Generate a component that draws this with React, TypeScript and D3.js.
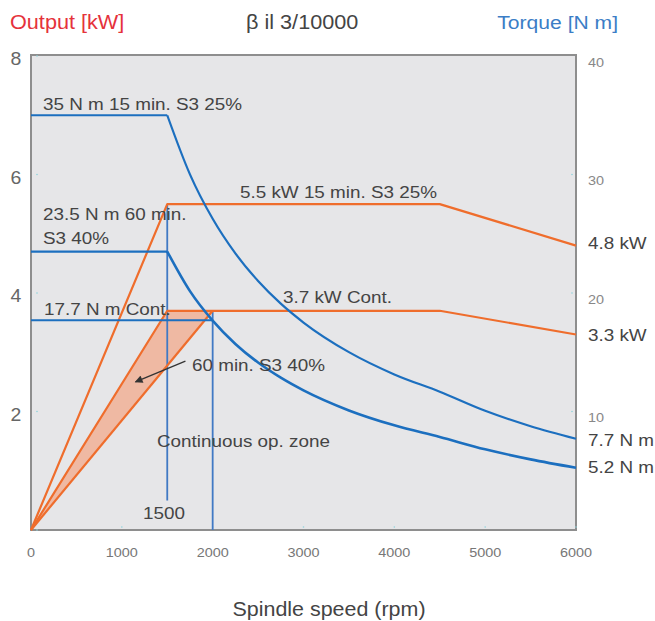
import * as d3 from 'd3'
import React, { useEffect, useRef } from 'react'

// Axis ticks
const speedTicks = [0, 1000, 2000, 3000, 4000, 5000, 6000]
const outputTicks = [2, 4, 6, 8]
const torqueTicks = [10, 20, 30, 40]

// Output curves (rpm -> kW)
const power15Speed = [0, 1500, 4500, 6000]
const power15Output = [0, 5.5, 5.5, 4.8]
const powerContSpeed = [0, 1500, 4500, 6000]
const powerContOutput = [0, 3.7, 3.7, 3.3]
const power60Speed = [0, 2000]
const power60Output = [0, 3.7]
// shaded 60 min. S3 40% zone
const zoneSpeed = [0, 1500, 2000]
const zoneOutput = [0, 3.7, 3.7]

// Torque curves (rpm -> N m)
const torqueSpeed = [0, 1500, 1750, 2000, 2250, 2500, 2750, 3000, 3500, 4000, 4500, 5000, 5500, 6000]
const torque15Value = [35, 35, 30.01, 26.26, 23.34, 21.01, 19.1, 17.51, 15.01, 13.13, 11.67, 10.06, 8.76, 7.7]
const torque60Value = [23.5, 23.5, 20.16, 17.67, 15.7, 14.13, 12.85, 11.78, 10.09, 8.83, 7.85, 6.81, 5.96, 5.25]
const torqueContSpeed = [0, 2000]
const torqueContValue = [17.7, 17.7]

// Base speed markers (rpm, kW top, kW bottom)
const markerSpeed = [1500, 2000]
const markerTop = [5.5, 3.7]
const markerBottom = [0.5, 0]

const ORANGE = '#ef6d2c'
const BLUE = '#1c6fbf'
const BLUE_LIGHT = '#4079c4'
const TEXT = '#444'
const FONT = "'Liberation Sans', Arial, sans-serif"
const SX = 1.11

const App = () => {
  const svgRef = useRef<any>(null)

  useEffect(() => {
    if (!svgRef.current) return
    d3.select(svgRef.current).selectAll('*').remove()

    const width = 655
    const height = 621
    const left = 31
    const right = 576
    const top = 55
    const bottom = 530

    const svg = d3.select(svgRef.current)
      .attr('width', width)
      .attr('height', height)
      .style('font-family', FONT)

    const x = d3.scaleLinear().domain([0, 6000]).range([left, right])
    const y = d3.scaleLinear().domain([0, 8]).range([bottom, 56])
    const yT = d3.scaleLinear().domain([0, 40]).range([bottom, 56])

    // text with the slight horizontal stretch of the original
    const label = (txt: string, px: number, py: number, size: number, color: string, anchor = 'start', sx = SX) =>
      svg.append('text')
        .attr('transform', `translate(${px},${py}) scale(${sx},1)`)
        .attr('text-anchor', anchor)
        .attr('dy', '0.35em')
        .attr('font-size', size)
        .attr('fill', color)
        .text(txt)

    // Plot area
    svg.append('rect')
      .attr('x', left)
      .attr('y', top)
      .attr('width', right - left)
      .attr('height', bottom - top)
      .attr('fill', '#e6e6e8')
      .attr('stroke', '#8e8e8e')
      .attr('stroke-width', 2)

    // tiny tick dots inside the frame
    svg.selectAll('.ydot')
      .data([0, ...outputTicks])
      .enter()
      .append('circle')
      .attr('cx', left + 6)
      .attr('cy', (d) => y(d))
      .attr('r', 0.8)
      .attr('fill', '#8fd3dc')
    svg.selectAll('.rdot')
      .data(outputTicks.slice(0, 3))
      .enter()
      .append('circle')
      .attr('cx', right - 4)
      .attr('cy', (d) => y(d))
      .attr('r', 0.8)
      .attr('fill', '#8fd3dc')
    svg.selectAll('.xdot')
      .data(speedTicks.slice(1))
      .enter()
      .append('circle')
      .attr('cx', (d) => x(d))
      .attr('cy', bottom - 3)
      .attr('r', 0.8)
      .attr('fill', '#8fd3dc')

    const line: any = d3.line()
      .x((d: any) => x(d[0]))
      .y((d: any) => y(d[1]))
    const lineT: any = d3.line()
      .x((d: any) => x(d[0]))
      .y((d: any) => yT(d[1]))
    const curveT: any = d3.line()
      .x((d: any) => x(d[0]))
      .y((d: any) => yT(d[1]))
      .curve(d3.curveMonotoneX)

    // 60 min zone
    svg.append('path')
      .attr('d', line(zoneSpeed.map((s, i) => [s, zoneOutput[i]])) + 'Z')
      .attr('fill', '#efb9a3')

    // Speed markers
    markerSpeed.forEach((s, i) => {
      svg.append('line')
        .attr('x1', x(s))
        .attr('x2', x(s))
        .attr('y1', y(markerTop[i]))
        .attr('y2', y(markerBottom[i]))
        .attr('stroke', BLUE_LIGHT)
        .attr('stroke-width', 1.8)
    })

    // Output curves
    const powerCurves = [
      [power15Speed, power15Output],
      [powerContSpeed, powerContOutput],
      [power60Speed, power60Output],
    ]
    powerCurves.forEach(([sp, val]) => {
      svg.append('path')
        .attr('d', line(sp.map((s, i) => [s, val[i]])))
        .attr('fill', 'none')
        .attr('stroke', ORANGE)
        .attr('stroke-width', 2.2)
        .attr('stroke-linejoin', 'round')
    })

    // Torque curves: flat part straight, then the falling part smooth
    const torqueCurves = [
      [torque15Value, 2.2],
      [torque60Value, 2.6],
    ]
    torqueCurves.forEach(([val, w]: any) => {
      const pts = torqueSpeed.map((s, i) => [s, val[i]])
      svg.append('path')
        .attr('d', lineT(pts.slice(0, 2)))
        .attr('fill', 'none')
        .attr('stroke', BLUE)
        .attr('stroke-width', 2.2)
      svg.append('path')
        .attr('d', curveT(pts.slice(1)))
        .attr('fill', 'none')
        .attr('stroke', BLUE)
        .attr('stroke-width', w)
    })
    svg.append('path')
      .attr('d', lineT(torqueContSpeed.map((s, i) => [s, torqueContValue[i]])))
      .attr('fill', 'none')
      .attr('stroke', BLUE)
      .attr('stroke-width', 2.2)

    // Arrow to the 60 min zone
    svg.append('defs')
      .append('marker')
      .attr('id', 'arrow')
      .attr('viewBox', '0 0 10 10')
      .attr('refX', 9)
      .attr('refY', 5)
      .attr('markerWidth', 7)
      .attr('markerHeight', 6)
      .attr('orient', 'auto')
      .append('path')
      .attr('d', 'M0,0L10,5L0,10Z')
      .attr('fill', '#333')
    svg.append('line')
      .attr('x1', x(1700))
      .attr('y1', y(2.85))
      .attr('x2', x(1150))
      .attr('y2', y(2.5))
      .attr('stroke', '#333')
      .attr('stroke-width', 1.3)
      .attr('marker-end', 'url(#arrow)')

    // Annotations
    label('35 N m 15 min. S3 25%', 43, 104, 17, TEXT)
    label('23.5 N m 60 min.', 43, 214, 17, TEXT)
    label('S3 40%', 43, 238, 17, TEXT)
    label('5.5 kW 15 min. S3 25%', 240, 192, 17, TEXT)
    label('17.7 N m Cont.', 44, 309, 17, TEXT)
    label('3.7 kW Cont.', 283, 297, 17, TEXT)
    label('60 min. S3 40%', 192, 365, 17, TEXT)
    label('Continuous op. zone', 157, 441, 17, TEXT)
    label('1500', 143, 513, 17, TEXT)

    // Right end values
    label('4.8 kW', 588, 243, 17, TEXT)
    label('3.3 kW', 588, 335, 17, TEXT)
    label('7.7 N m', 588, 440, 17, TEXT)
    label('5.2 N m', 588, 467, 17, TEXT)

    // Axes labels
    outputTicks.forEach((t) => label(String(t), 16, y(t) + 3, 17.5, '#666', 'middle'))
    torqueTicks.forEach((t) => label(String(t), 588, yT(t) + 6, 13, '#888'))
    speedTicks.forEach((t) => label(String(t), x(t), 552, 13, '#777', 'middle'))

    label('Spindle speed (rpm)', 329, 609, 19.5, TEXT, 'middle', 1.1)

    // Header
    label('Output [kW]', 10, 22, 19.5, '#e5323b')
    label('β il 3/10000', 246, 22, 19.5, TEXT)
    label('Torque [N m]', 618, 22, 19, '#3b7dc6', 'end')
  }, [])

  return (
    <svg ref={svgRef} style={{ position: 'absolute', left: 0, top: 0 }}></svg>
  )
}

export default App
